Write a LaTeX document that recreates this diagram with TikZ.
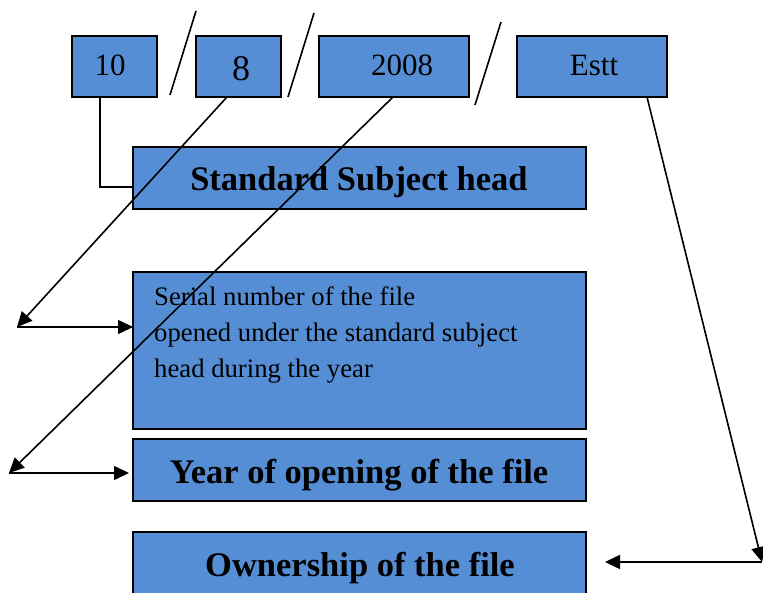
\documentclass[tikz,border=0pt]{standalone}
\usepackage{fontspec}
\setmainfont{Liberation Serif}
\usetikzlibrary{arrows.meta}
\definecolor{boxblue}{RGB}{85,142,213}
\begin{document}
\begin{tikzpicture}[x=1pt,y=-1pt,
  box/.style={draw=black, line width=1.9pt, fill=boxblue, inner sep=0pt, outer sep=0pt, anchor=north west},
  conn/.style={line width=1.6pt},
  arr/.style={conn,-{Triangle[length=15pt,width=14pt]}},
  num/.style={font=\fontsize{31}{36}\selectfont, anchor=base, inner sep=0pt},
  bigbold/.style={font=\fontsize{34.5}{40}\selectfont\bfseries, anchor=base, inner sep=0pt},
  body/.style={font=\fontsize{26.7}{36}\selectfont, anchor=base west, inner sep=0pt}]
\useasboundingbox (0,0) rectangle (763,593);
% boxes
\node[box, minimum width=85pt, minimum height=61pt] (b10) at (72,36) {};
\node[box, minimum width=85pt, minimum height=61pt] (b8) at (196,36) {};
\node[box, minimum width=150pt, minimum height=61pt] (b2008) at (319,36) {};
\node[box, minimum width=150pt, minimum height=61pt] (bEstt) at (517,36) {};
\node[box, minimum width=453pt, minimum height=62pt] (std) at (133,147) {};
\node[box, minimum width=453pt, minimum height=157pt] (serial) at (133,272) {};
\node[box, minimum width=453pt, minimum height=62pt] (year) at (133,439) {};
\node[box, minimum width=453pt, minimum height=64pt] (own) at (133,532) {};
% texts
\node[num] (t10) at (110,76) {10};
\node[num, font=\fontsize{36}{40}\selectfont] (t8) at (241,81) {8};
\node[num] (t2008) at (402,76) {2008};
\node[num] (tEstt) at (594,76) {Estt};
\node[bigbold] (tstd) at (359,191) {Standard Subject head};
\node[bigbold] (tyear) at (359,483) {Year of opening of the file};
\node[bigbold] (town) at (360,576) {Ownership of the file};
\node[body] (s1) at (154,306) {Serial number of the file};
\node[body] (s2) at (154,342) {opened under the standard subject};
\node[body] (s3) at (154,378) {head during the year};
% slashes
\draw[conn] (196,11) -- (170,95);
\draw[conn] (314,13) -- (288,97);
\draw[conn] (501,22) -- (475,105);
% connectors
\coordinate (c1) at (17,327);
\coordinate (c2) at (9,473);
\coordinate (c3) at (762,562);
\path (year.west |- c2) ++(-4,0) coordinate (c2e);
\path (own.east |- c3) ++(19,0) coordinate (c3e);
\draw[conn] ([xshift=-14.5pt]b10.south) |- ([yshift=-9pt]std.west);
\draw[arr] ([xshift=-11.5pt]b8.south) -- (c1);
\draw[arr] (c1) -- (c1 -| serial.west);
\draw[arr] ([xshift=-1pt]b2008.south) -- (c2);
\draw[arr] (c2) -- (c2e);
\draw[arr] ([xshift=55pt]bEstt.south) -- (c3);
\draw[arr] (c3) -- (c3e);
\end{tikzpicture}
\end{document}
